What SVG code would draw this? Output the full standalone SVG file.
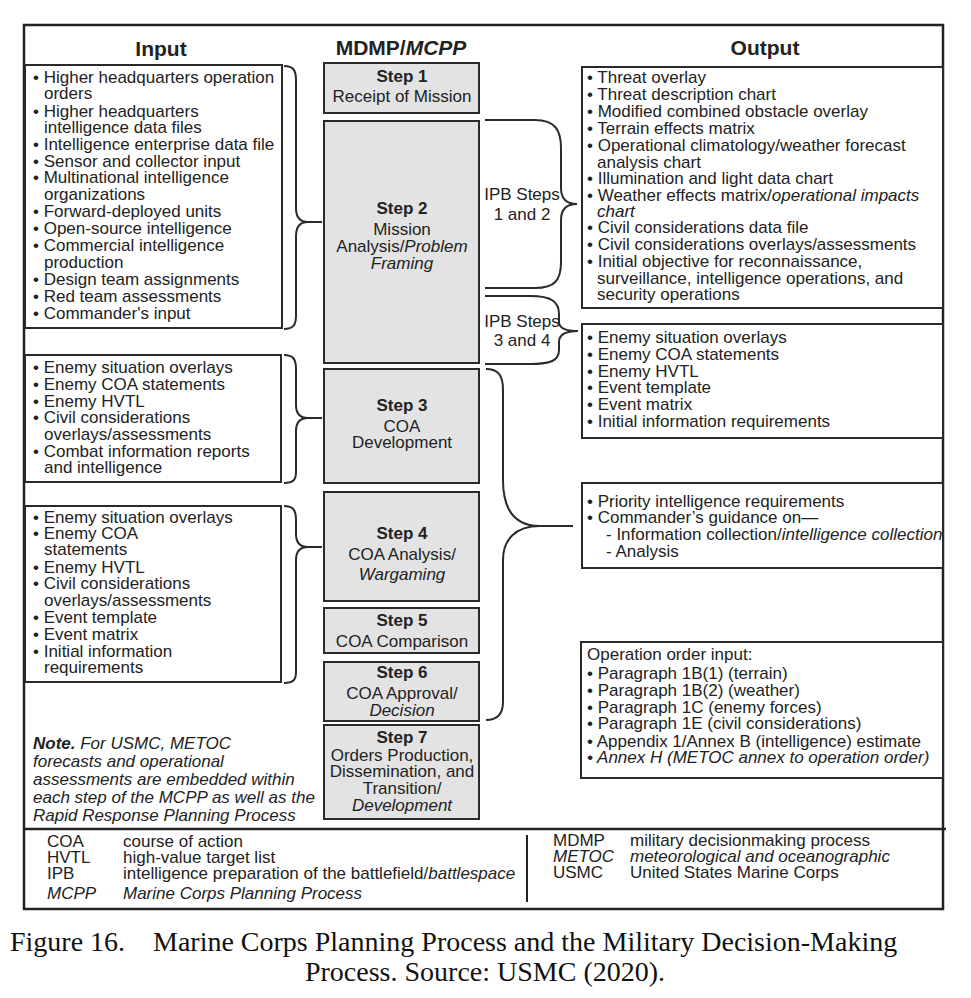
<svg xmlns="http://www.w3.org/2000/svg" width="971" height="998" viewBox="0 0 971 998">
<style>
text{font-family:"Liberation Sans",Arial,Helvetica,sans-serif;font-size:17px;fill:#222}
.b{font-weight:bold}
.i{font-style:italic}
.c{text-anchor:middle}
.h{font-size:21px;font-weight:bold}
.box{fill:#fff;stroke:#2a2a2a;stroke-width:2}
.step{fill:#e3e3e3;stroke:#2a2a2a;stroke-width:2}
.br{fill:none;stroke:#2a2a2a;stroke-width:2}
.cap{font-family:"Liberation Serif","Times New Roman",serif;font-size:28px;fill:#111}
</style>
<rect x="0" y="0" width="971" height="998" fill="#fff"/>
<rect x="24" y="25" width="919" height="884" fill="none" stroke="#222" stroke-width="2.5"/>
<line x1="24" y1="829" x2="946" y2="829" stroke="#222" stroke-width="2.5"/>

<g id="headers">
<text class="h c" x="161" y="56">Input</text>
<text class="h c" x="401" y="55">MDMP/<tspan class="i">MCPP</tspan></text>
<text class="h c" x="765" y="55">Output</text>
</g>

<g id="input1">
<rect class="box" x="25" y="65" width="257" height="263"/>
<text x="33" y="83">• Higher headquarters operation</text>
<text x="44" y="99">orders</text>
<text x="33" y="117">• Higher headquarters</text>
<text x="44" y="133">intelligence data files</text>
<text x="33" y="150">• Intelligence enterprise data file</text>
<text x="33" y="167">• Sensor and collector input</text>
<text x="33" y="183">• Multinational intelligence</text>
<text x="44" y="200">organizations</text>
<text x="33" y="217">• Forward-deployed units</text>
<text x="33" y="234">• Open-source intelligence</text>
<text x="33" y="251">• Commercial intelligence</text>
<text x="44" y="268">production</text>
<text x="33" y="285">• Design team assignments</text>
<text x="33" y="302">• Red team assessments</text>
<text x="33" y="319">• Commander's input</text>
</g>

<g id="input2">
<rect class="box" x="25" y="355" width="256" height="127"/>
<text x="33" y="373">• Enemy situation overlays</text>
<text x="33" y="390">• Enemy COA statements</text>
<text x="33" y="407">• Enemy HVTL</text>
<text x="33" y="423">• Civil considerations</text>
<text x="44" y="440">overlays/assessments</text>
<text x="33" y="457">• Combat information reports</text>
<text x="44" y="473">and intelligence</text>
</g>

<g id="input3">
<rect class="box" x="25" y="506" width="256" height="176"/>
<text x="33" y="523">• Enemy situation overlays</text>
<text x="33" y="539">• Enemy COA</text>
<text x="44" y="555">statements</text>
<text x="33" y="573">• Enemy HVTL</text>
<text x="33" y="589">• Civil considerations</text>
<text x="44" y="606">overlays/assessments</text>
<text x="33" y="623">• Event template</text>
<text x="33" y="640">• Event matrix</text>
<text x="33" y="657">• Initial information</text>
<text x="44" y="673">requirements</text>
</g>

<g id="note">
<text class="i" x="33" y="749"><tspan class="b">Note.</tspan> For USMC, METOC</text>
<text class="i" x="33" y="767">forecasts and operational</text>
<text class="i" x="33" y="785">assessments are embedded within</text>
<text class="i" x="33" y="803">each step of the MCPP as well as the</text>
<text class="i" x="33" y="821">Rapid Response Planning Process</text>
</g>

<g id="step1">
<rect class="step" x="324" y="63" width="155" height="50"/>
<text class="b c" x="402" y="82">Step 1</text>
<text class="c" x="402" y="102">Receipt of Mission</text>
</g>
<g id="step2">
<rect class="step" x="324" y="121" width="155" height="242"/>
<text class="b c" x="402" y="214">Step 2</text>
<text class="c" x="402" y="235">Mission</text>
<text class="c" x="402" y="252">Analysis/<tspan class="i">Problem</tspan></text>
<text class="c i" x="402" y="269">Framing</text>
</g>
<g id="step3">
<rect class="step" x="324" y="369" width="155" height="114"/>
<text class="b c" x="402" y="411">Step 3</text>
<text class="c" x="402" y="432">COA</text>
<text class="c" x="402" y="448">Development</text>
</g>
<g id="step4">
<rect class="step" x="324" y="492" width="155" height="109"/>
<text class="b c" x="402" y="539">Step 4</text>
<text class="c" x="402" y="560">COA Analysis/</text>
<text class="c i" x="402" y="580">Wargaming</text>
</g>
<g id="step5">
<rect class="step" x="324" y="608" width="155" height="45"/>
<text class="b c" x="402" y="626">Step 5</text>
<text class="c" x="402" y="647">COA Comparison</text>
</g>
<g id="step6">
<rect class="step" x="324" y="662" width="155" height="59"/>
<text class="b c" x="402" y="678">Step 6</text>
<text class="c" x="402" y="699">COA Approval/</text>
<text class="c i" x="402" y="716">Decision</text>
</g>
<g id="step7">
<rect class="step" x="324" y="725" width="155" height="94"/>
<text class="b c" x="402" y="743">Step 7</text>
<text class="c" x="402" y="761">Orders Production,</text>
<text class="c" x="402" y="777">Dissemination, and</text>
<text class="c" x="402" y="794">Transition/</text>
<text class="c i" x="402" y="811">Development</text>
</g>

<g id="output1">
<rect class="box" x="582" y="67" width="361" height="241"/>
<text x="587" y="83">• Threat overlay</text>
<text x="587" y="100">• Threat description chart</text>
<text x="587" y="117">• Modified combined obstacle overlay</text>
<text x="587" y="134">• Terrain effects matrix</text>
<text x="587" y="151">• Operational climatology/weather forecast</text>
<text x="597" y="168">analysis chart</text>
<text x="587" y="184">• Illumination and light data chart</text>
<text x="587" y="201">• Weather effects matrix/<tspan class="i">operational impacts</tspan></text>
<text class="i" x="597" y="217">chart</text>
<text x="587" y="233">• Civil considerations data file</text>
<text x="587" y="250">• Civil considerations overlays/assessments</text>
<text x="587" y="267">• Initial objective for reconnaissance,</text>
<text x="597" y="284">surveillance, intelligence operations, and</text>
<text x="597" y="300">security operations</text>
</g>

<g id="output2">
<rect class="box" x="582" y="324" width="361" height="114"/>
<text x="587" y="343">• Enemy situation overlays</text>
<text x="587" y="360">• Enemy COA statements</text>
<text x="587" y="377">• Enemy HVTL</text>
<text x="587" y="393">• Event template</text>
<text x="587" y="410">• Event matrix</text>
<text x="587" y="427">• Initial information requirements</text>
</g>

<g id="output3">
<rect class="box" x="582" y="483" width="361" height="85"/>
<text x="587" y="507">• Priority intelligence requirements</text>
<text x="587" y="523">• Commander’s guidance on—</text>
<text x="606" y="540">- Information collection/<tspan class="i">intelligence collection</tspan></text>
<text x="606" y="557">- Analysis</text>
</g>

<g id="output4">
<rect class="box" x="581" y="642" width="362" height="136"/>
<text x="587" y="660">Operation order input:</text>
<text x="587" y="679">• Paragraph 1B(1) (terrain)</text>
<text x="587" y="696">• Paragraph 1B(2) (weather)</text>
<text x="587" y="713">• Paragraph 1C (enemy forces)</text>
<text x="587" y="729">• Paragraph 1E (civil considerations)</text>
<text x="587" y="747">• Appendix 1/Annex B (intelligence) estimate</text>
<text class="i" x="587" y="763">• Annex H (METOC annex to operation order)</text>
</g>

<g id="ipb-labels">
<text class="c" x="522" y="200">IPB Steps</text>
<text class="c" x="522" y="220">1 and 2</text>
<text class="c" x="522" y="327">IPB Steps</text>
<text class="c" x="522" y="346">3 and 4</text>
</g>

<g id="connectors">
<path class="br" d="M284,66 C293,66 296,70 296,80 L296,208 C296,217 300,222 308,222 L322,222 M308,222 C300,222 296,227 296,236 L296,316 C296,325 293,329 284,329"/>
<path class="br" d="M284,355 C293,355 296,359 296,369 L296,405 C296,414 300,418 308,418 L322,418 M308,418 C300,418 296,422 296,431 L296,472 C296,480 293,483 284,483"/>
<path class="br" d="M284,506 C293,506 296,510 296,520 L296,534 C296,543 300,547 308,547 L322,547 M308,547 C300,547 296,551 296,560 L296,672 C296,680 293,683 284,683"/>
<path class="br" d="M485,120 L535,120 C555,120 561,130 561,148 L561,188 C561,198 566,204 577,204 C566,204 561,210 561,220 L561,262 C561,280 555,288 535,288 L485,288"/>
<path class="br" d="M485,296 L530,296 C552,296 559,302 559,314 L559,322 C559,328 566,331 578,331 C566,331 559,334 559,342 L559,350 C559,360 552,364 530,364 L485,364"/>
<path class="br" d="M486,369 C498,369 503,375 503,390 L503,480 C503,510 515,526 540,526 L573,526 M540,526 C515,526 503,540 503,560 L503,702 C503,714 498,720 486,720"/>
</g>

<g id="legend">
<line x1="527" y1="835" x2="527" y2="902" stroke="#222" stroke-width="2"/>
<text x="47" y="847">COA</text><text x="123" y="847">course of action</text>
<text x="47" y="863">HVTL</text><text x="123" y="863">high-value target list</text>
<text x="47" y="879">IPB</text><text x="123" y="879">intelligence preparation of the battlefield/<tspan class="i">battlespace</tspan></text>
<text class="i" x="47" y="899">MCPP</text><text class="i" x="123" y="899">Marine Corps Planning Process</text>
<text x="553" y="846">MDMP</text><text x="630" y="846">military decisionmaking process</text>
<text class="i" x="553" y="862">METOC</text><text class="i" x="630" y="862">meteorological and oceanographic</text>
<text x="553" y="878">USMC</text><text x="630" y="878">United States Marine Corps</text>
</g>

<g id="caption">
<text class="cap" x="10" y="951">Figure 16.</text>
<text class="cap" x="153" y="951">Marine Corps Planning Process and the Military Decision-Making</text>
<text class="cap c" x="485" y="981">Process. Source: USMC (2020).</text>
</g>
</svg>
